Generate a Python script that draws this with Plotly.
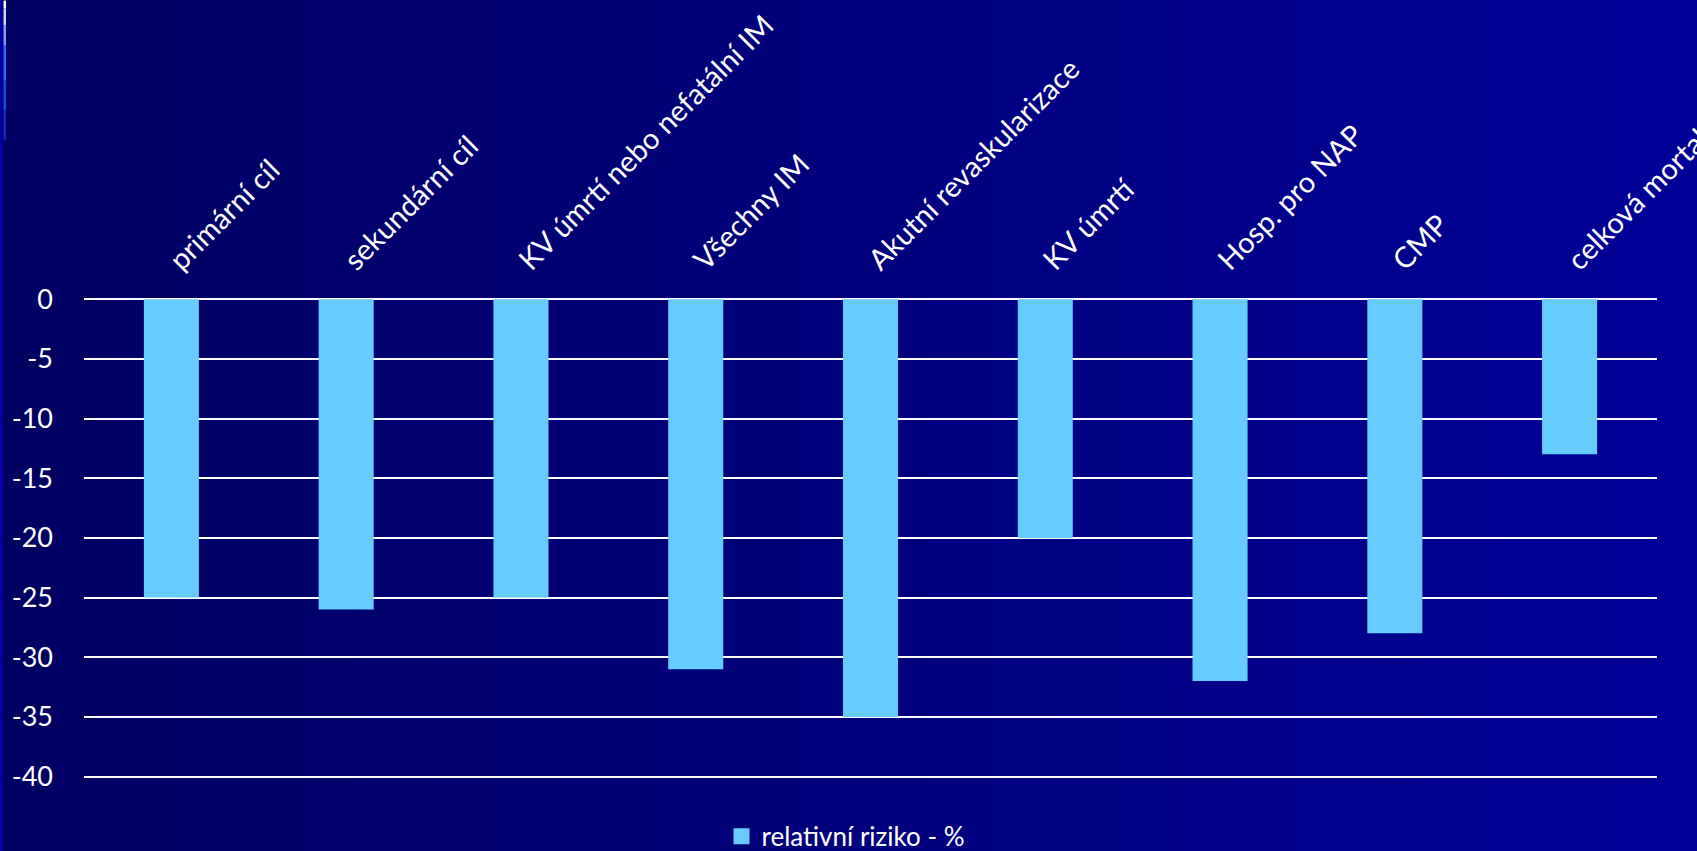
import plotly.graph_objects as go

categories = ["primární cíl", "sekundární cíl", "KV úmrtí nebo nefatální IM", "Všechny IM",
              "Akutní revaskularizace", "KV úmrtí", "Hosp. pro NAP", "CMP", "celková mortalita"]
values = [-25, -26, -25, -31, -35, -20, -32, -28, -13]
series_name = "relativní riziko - %"
y_ticks = [0, -5, -10, -15, -20, -25, -30, -35, -40]
y_tick_labels = ["0", "-5", "-10", "-15", "-20", "-25", "-30", "-35", "-40"]

W, H = 1697, 851
ML, MR, MT, MB = 84, 40, 298.5, 73.3
PW = W - ML - MR
PH = H - MT - MB

def px_to_paper_x(px):
    return (px - ML) / PW

def py_to_paper_y(py):
    return (H - MB - py) / PH

FONT = "Lato, 'Open Sans', sans-serif"
BAR_COLOR = "#66CCFF"

fig = go.Figure()
fig.add_trace(go.Bar(x=categories, y=values, name=series_name, marker=dict(color=BAR_COLOR, line=dict(width=0)),
                     showlegend=False))
# legend entry with a larger square swatch
fig.add_trace(go.Scatter(x=[None], y=[None], mode="markers", name=series_name,
                         marker=dict(symbol="square", size=16, color=BAR_COLOR), showlegend=True,
                         hoverinfo="skip"))

shapes = []
N = 170
c0 = (0, 0, 98)
c1 = (0, 0, 152)
for i in range(N):
    t = i / (N - 1)
    col = "rgb(%d,%d,%d)" % tuple(round(a + (b - a) * t) for a, b in zip(c0, c1))
    x0 = i * W / N
    x1 = (i + 1) * W / N + 1
    shapes.append(dict(type="rect", xref="paper", yref="paper", layer="below",
                       x0=px_to_paper_x(x0), x1=px_to_paper_x(x1),
                       y0=py_to_paper_y(H + 20), y1=py_to_paper_y(-20),
                       fillcolor=col, line=dict(width=0)))
# left slide edge
shapes.append(dict(type="rect", xref="paper", yref="paper", layer="below",
                   x0=px_to_paper_x(-2), x1=px_to_paper_x(2.5), y0=py_to_paper_y(H + 20), y1=py_to_paper_y(-20),
                   fillcolor="rgb(0,0,170)", line=dict(width=0)))
for (ya, yb, col) in [(0, 8, "#fffbd0"), (8, 25, "#d0d8ff"), (25, 45, "#7f9cff"), (45, 80, "#2a66ff"),
                      (80, 110, "#1a4ae0"), (110, 140, "#0c2ab0")]:
    shapes.append(dict(type="rect", xref="paper", yref="paper", layer="below",
                       x0=px_to_paper_x(3.5), x1=px_to_paper_x(6), y0=py_to_paper_y(yb), y1=py_to_paper_y(ya),
                       fillcolor=col, line=dict(width=0)))

fig.update_layout(
    width=W, height=H,
    margin=dict(l=ML, r=MR, t=MT, b=MB, autoexpand=False),
    paper_bgcolor="rgb(0,0,110)",
    plot_bgcolor="rgba(0,0,0,0)",
    font=dict(family=FONT, color="white", size=26),
    bargap=0.685,
    shapes=shapes,
    showlegend=True,
    legend=dict(orientation="h", x=px_to_paper_x(846), xanchor="center", y=py_to_paper_y(836), yanchor="middle",
                font=dict(size=26, color="white"), bgcolor="rgba(0,0,0,0)", itemwidth=30),
    xaxis=dict(side="top", tickangle=-45, showgrid=False, showline=False, ticks="", automargin=False,
               tickfont=dict(size=29, color="white"), ticklabelstandoff=16),
    yaxis=dict(range=[-40.12, 0.02], tickvals=y_ticks, ticktext=y_tick_labels, showgrid=True,
               gridcolor="white", gridwidth=2,
               zeroline=True, zerolinecolor="white", zerolinewidth=2, showline=False, ticks="",
               automargin=False, tickfont=dict(size=27, color="white"), ticklabelstandoff=30),
)

fig.write_html("out.html", config={"displayModeBar": False},
               post_script="document.body.style.margin='0';document.body.style.overflow='hidden';")
